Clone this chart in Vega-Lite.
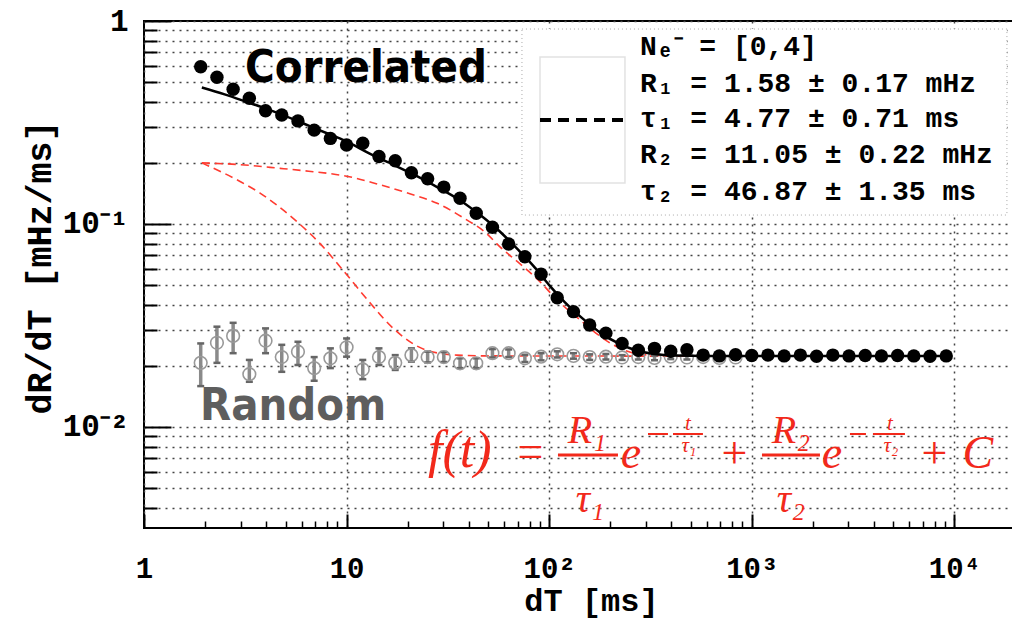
{
  "$schema": "https://vega.github.io/schema/vega-lite/v6.json",
  "width": 870,
  "height": 507,
  "autosize": "none",
  "padding": {"left": 144, "top": 21, "right": 0, "bottom": 92},
  "background": "white",
  "config": {"view": {"stroke": "black", "strokeWidth": 2}},
  "datasets": {
    "corr": [
      {"x": 1.905, "y": 0.595}, {"x": 2.291, "y": 0.528}, {"x": 2.754, "y": 0.461}, {"x": 3.311, "y": 0.416},
      {"x": 3.981, "y": 0.361}, {"x": 4.786, "y": 0.344}, {"x": 5.754, "y": 0.322}, {"x": 6.918, "y": 0.29},
      {"x": 8.318, "y": 0.264}, {"x": 10.0, "y": 0.245}, {"x": 12.02, "y": 0.25}, {"x": 14.45, "y": 0.215},
      {"x": 17.38, "y": 0.205}, {"x": 20.89, "y": 0.179}, {"x": 25.12, "y": 0.167}, {"x": 30.2, "y": 0.152},
      {"x": 36.31, "y": 0.134}, {"x": 43.65, "y": 0.113}, {"x": 52.48, "y": 0.0964}, {"x": 63.1, "y": 0.0797},
      {"x": 75.86, "y": 0.069}, {"x": 91.2, "y": 0.0565}, {"x": 109.6, "y": 0.0433}, {"x": 131.8, "y": 0.037},
      {"x": 158.5, "y": 0.0318}, {"x": 190.5, "y": 0.029}, {"x": 229.1, "y": 0.0258}, {"x": 275.4, "y": 0.0239},
      {"x": 331.1, "y": 0.0244}, {"x": 398.1, "y": 0.0236}, {"x": 478.6, "y": 0.024}, {"x": 575.4, "y": 0.0226},
      {"x": 691.8, "y": 0.0224}, {"x": 831.8, "y": 0.0227}, {"x": 1000, "y": 0.0225}, {"x": 1202, "y": 0.0226},
      {"x": 1445, "y": 0.0224}, {"x": 1738, "y": 0.0226}, {"x": 2089, "y": 0.0223}, {"x": 2512, "y": 0.0226},
      {"x": 3020, "y": 0.0224}, {"x": 3631, "y": 0.0225}, {"x": 4365, "y": 0.0224}, {"x": 5248, "y": 0.0225},
      {"x": 6310, "y": 0.0224}, {"x": 7586, "y": 0.0223}, {"x": 9120, "y": 0.0224}
    ],
    "rand": [
      {"x": 1.905, "y": 0.0207, "lo": 0.0159, "hi": 0.0258}, {"x": 2.291, "y": 0.026, "lo": 0.0207, "hi": 0.0312},
      {"x": 2.754, "y": 0.0281, "lo": 0.0231, "hi": 0.0326}, {"x": 3.311, "y": 0.0182, "lo": 0.0167, "hi": 0.0214},
      {"x": 3.981, "y": 0.0266, "lo": 0.0231, "hi": 0.0306}, {"x": 4.786, "y": 0.0221, "lo": 0.0187, "hi": 0.0254},
      {"x": 5.754, "y": 0.0235, "lo": 0.0202, "hi": 0.0263}, {"x": 6.918, "y": 0.0195, "lo": 0.0169, "hi": 0.0221},
      {"x": 8.318, "y": 0.0218, "lo": 0.0195, "hi": 0.0244}, {"x": 10.0, "y": 0.0247, "lo": 0.0222, "hi": 0.0273},
      {"x": 12.02, "y": 0.0192, "lo": 0.0172, "hi": 0.0214}, {"x": 14.45, "y": 0.0221, "lo": 0.0202, "hi": 0.0244},
      {"x": 17.38, "y": 0.0207, "lo": 0.0191, "hi": 0.0226}, {"x": 20.89, "y": 0.0226, "lo": 0.021, "hi": 0.0244},
      {"x": 25.12, "y": 0.0221, "lo": 0.0208, "hi": 0.0235}, {"x": 30.2, "y": 0.0221, "lo": 0.0209, "hi": 0.0234},
      {"x": 36.31, "y": 0.0206, "lo": 0.0195, "hi": 0.0218}, {"x": 43.65, "y": 0.0206, "lo": 0.0195, "hi": 0.0218},
      {"x": 52.48, "y": 0.0231, "lo": 0.022, "hi": 0.0242}, {"x": 63.1, "y": 0.0231, "lo": 0.0221, "hi": 0.0241},
      {"x": 75.86, "y": 0.0218, "lo": 0.0209, "hi": 0.0227}, {"x": 91.2, "y": 0.0222, "lo": 0.0213, "hi": 0.0231},
      {"x": 109.6, "y": 0.0228, "lo": 0.022, "hi": 0.0236}, {"x": 131.8, "y": 0.0224, "lo": 0.0217, "hi": 0.0231},
      {"x": 158.5, "y": 0.0221, "lo": 0.0214, "hi": 0.0228}, {"x": 190.5, "y": 0.0222, "lo": 0.0215, "hi": 0.0229},
      {"x": 229.1, "y": 0.022, "lo": 0.0214, "hi": 0.0226}, {"x": 275.4, "y": 0.0221, "lo": 0.0215, "hi": 0.0227},
      {"x": 331.1, "y": 0.0219, "lo": 0.0213, "hi": 0.0225}, {"x": 398.1, "y": 0.0222, "lo": 0.0216, "hi": 0.0228},
      {"x": 478.6, "y": 0.022, "lo": 0.0215, "hi": 0.0225}, {"x": 575.4, "y": 0.0221, "lo": 0.0216, "hi": 0.0226},
      {"x": 691.8, "y": 0.0219, "lo": 0.0214, "hi": 0.0224}, {"x": 831.8, "y": 0.022, "lo": 0.0215, "hi": 0.0225}
    ],
    "fit": [
      {"x": 1.93, "y": 0.47}, {"x": 2.5, "y": 0.435}, {"x": 3.2, "y": 0.4}, {"x": 4, "y": 0.37}, {"x": 5, "y": 0.34},
      {"x": 6.5, "y": 0.305}, {"x": 8, "y": 0.28}, {"x": 10, "y": 0.255}, {"x": 13, "y": 0.222}, {"x": 17, "y": 0.196},
      {"x": 22, "y": 0.173}, {"x": 28, "y": 0.152}, {"x": 35, "y": 0.134}, {"x": 45, "y": 0.112}, {"x": 55, "y": 0.095},
      {"x": 70, "y": 0.075}, {"x": 85, "y": 0.061}, {"x": 100, "y": 0.05}, {"x": 120, "y": 0.041}, {"x": 150, "y": 0.0335},
      {"x": 180, "y": 0.029}, {"x": 220, "y": 0.0258}, {"x": 270, "y": 0.0238}, {"x": 330, "y": 0.0229},
      {"x": 420, "y": 0.0225}, {"x": 600, "y": 0.0224}, {"x": 1000, "y": 0.0224}, {"x": 9120, "y": 0.0224}
    ],
    "slow": [
      {"x": 1.93, "y": 0.2}, {"x": 3, "y": 0.196}, {"x": 4.7, "y": 0.188}, {"x": 6.5, "y": 0.182}, {"x": 8.3, "y": 0.177},
      {"x": 10, "y": 0.172}, {"x": 14, "y": 0.158}, {"x": 20, "y": 0.142}, {"x": 28, "y": 0.1265}, {"x": 38, "y": 0.1067},
      {"x": 49, "y": 0.09}, {"x": 57, "y": 0.0773}, {"x": 70, "y": 0.065}, {"x": 90, "y": 0.052}, {"x": 110, "y": 0.042},
      {"x": 142, "y": 0.0337}, {"x": 170, "y": 0.029}, {"x": 207, "y": 0.0254}, {"x": 281, "y": 0.0228},
      {"x": 400, "y": 0.0224}, {"x": 1000, "y": 0.0223}, {"x": 9120, "y": 0.0223}
    ],
    "fast": [
      {"x": 1.93, "y": 0.2}, {"x": 2.98, "y": 0.162}, {"x": 3.74, "y": 0.142}, {"x": 4.52, "y": 0.124}, {"x": 5.67, "y": 0.103},
      {"x": 7.4, "y": 0.08}, {"x": 9.63, "y": 0.059}, {"x": 13.3, "y": 0.04}, {"x": 17, "y": 0.0306}, {"x": 24.8, "y": 0.0239},
      {"x": 35, "y": 0.0226}, {"x": 50, "y": 0.0224}, {"x": 9120, "y": 0.0223}
    ],
    "legendBox": [{"x": 73.4, "x2": 18180, "y": 0.913, "y2": 0.1107}],
    "legendSample": [{"x": 90.1, "x2": 236.7, "y": 0.665, "y2": 0.159}],
    "legendLine": [{"x": 90.1, "x2": 236.7, "y": 0.325}],
    "legendText": [
      {"x": 280.6, "y": 0.6801, "t": "Nₑ⁻ = [0,4]"},
      {"x": 280.6, "y": 0.4469, "t": "R₁ = 1.58 ± 0.17 mHz"},
      {"x": 280.6, "y": 0.3005, "t": "τ₁ = 4.77 ± 0.71 ms"},
      {"x": 280.6, "y": 0.1998, "t": "R₂ = 11.05 ± 0.22 mHz"},
      {"x": 280.6, "y": 0.1313, "t": "τ₂ = 46.87 ± 1.35 ms"}
    ],
    "corrLabel": [{"x": 3.152, "y": 0.5004, "t": "Correlated"}],
    "randLabel": [{"x": 1.889, "y": 0.01082, "t": "Random"}],
    "fLabel": [{"x": 25.22, "y": 0.006353, "t": "f(t)"}],
    "mainSym": [
      {"x": 80.4, "y": 0.006353, "t": "="},
      {"x": 253.4, "y": 0.006281, "t": "e"},
      {"x": 816.9, "y": 0.006281, "t": "+"},
      {"x": 2488, "y": 0.006281, "t": "e"},
      {"x": 7932, "y": 0.006281, "t": "+"},
      {"x": 13080, "y": 0.006281, "t": "C"}
    ],
    "fracText": [
      {"x": 153.7, "y": 0.00834, "t": "R₁"},
      {"x": 159.0, "y": 0.003814, "t": "τ₁"},
      {"x": 1561, "y": 0.00834, "t": "R₂"},
      {"x": 1561, "y": 0.003814, "t": "τ₂"}
    ],
    "expText": [
      {"x": 484.3, "y": 0.009665, "t": "t"},
      {"x": 489.8, "y": 0.00753, "t": "τ₁"},
      {"x": 4810, "y": 0.009665, "t": "t"},
      {"x": 4866, "y": 0.00753, "t": "τ₂"}
    ],
    "bigBars": [
      {"x": 110.5, "x2": 218.6, "y": 0.007279},
      {"x": 1123, "x2": 2171, "y": 0.007279}
    ],
    "smallBars": [
      {"x": 307.4, "x2": 385.8, "y": 0.009237},
      {"x": 408.5, "x2": 574.2, "y": 0.009237},
      {"x": 3053, "x2": 3662, "y": 0.009237},
      {"x": 3964, "x2": 5704, "y": 0.009237}
    ]
  },
  "resolve": {"axis": {"x": "independent", "y": "independent"}},
  "encoding": {
    "x": {"field": "x", "type": "quantitative", "scale": {"type": "log", "domain": [1, 19700], "nice": false}, "axis": null},
    "y": {"field": "y", "type": "quantitative", "scale": {"type": "log", "domain": [0.00318, 1], "nice": false}, "axis": null}
  },
  "layer": [
    {
      "data": {"name": "corr"},
      "mark": {"type": "point", "opacity": 0},
      "encoding": {
        "x": {"field": "x", "type": "quantitative", "scale": {"type": "log", "domain": [1, 19700], "nice": false},
          "axis": {"orient": "bottom", "values": [2,3,4,5,6,7,8,9,20,30,40,50,60,70,80,90,200,300,400,500,600,700,800,900,2000,3000,4000,5000,6000,7000,8000,9000],
            "tickSize": -7, "tickWidth": 1.5, "tickColor": "black", "labels": false, "grid": false, "domain": false, "title": null}},
        "y": {"field": "y", "type": "quantitative", "scale": {"type": "log", "domain": [0.00318, 1], "nice": false},
          "axis": {"orient": "left", "values": [0.004,0.005,0.006,0.007,0.008,0.009,0.02,0.03,0.04,0.05,0.06,0.07,0.08,0.09,0.2,0.3,0.4,0.5,0.6,0.7,0.8,0.9],
            "tickSize": -13, "tickWidth": 2, "tickColor": "black", "labels": false, "domain": false, "title": null,
            "grid": true, "gridColor": "#444", "gridDash": [2, 5], "gridWidth": 1.5}}
      }
    },
    {
      "data": {"name": "corr"},
      "mark": {"type": "point", "opacity": 0},
      "encoding": {
        "x": {"field": "x", "type": "quantitative", "scale": {"type": "log", "domain": [1, 19700], "nice": false},
          "axis": {"orient": "bottom", "values": [1, 10, 100, 1000, 10000],
            "labelExpr": "datum.value == 1 ? '1' : datum.value == 10 ? '10' : datum.value == 100 ? '10²' : datum.value == 1000 ? '10³' : '10⁴'",
            "tickSize": -14, "tickWidth": 2, "tickColor": "black", "domain": false,
            "labelFont": "Liberation Mono", "labelFontWeight": "bold", "labelFontSize": 29, "labelColor": "black", "labelPadding": 40,
            "labelFlush": false, "labelOverlap": false,
            "grid": true, "gridColor": "#444", "gridDash": [2, 5], "gridWidth": 1.5,
            "title": "dT [ms]", "titleFont": "Liberation Mono", "titleFontWeight": "bold", "titleFontSize": 32, "titleColor": "black",
            "titleX": 447, "titleY": 82, "titleAlign": "center", "titleBaseline": "alphabetic"}},
        "y": {"field": "y", "type": "quantitative", "scale": {"type": "log", "domain": [0.00318, 1], "nice": false},
          "axis": {"orient": "left", "values": [0.01, 0.1, 1],
            "labelExpr": "datum.value == 1 ? '1' : datum.value == 0.1 ? '10⁻¹' : '10⁻²'",
            "tickSize": -27, "tickWidth": 2, "tickColor": "black", "domain": false,
            "labelFont": "Liberation Mono", "labelFontWeight": "bold", "labelFontSize": 31, "labelColor": "black", "labelPadding": 43,
            "labelFlush": false, "labelOverlap": false,
            "grid": true, "gridColor": "#444", "gridDash": [2, 5], "gridWidth": 1.5,
            "title": "dR/dT  [mHz/ms]", "titleFont": "Liberation Mono", "titleFontWeight": "bold", "titleFontSize": 35, "titleColor": "black",
            "titleX": -94, "titleY": 246, "titleAngle": 270, "titleAlign": "center", "titleBaseline": "alphabetic"}}
      }
    },
    {
      "data": {"name": "legendBox"},
      "mark": {"type": "rect", "fill": "white", "stroke": "#aaaaaa", "strokeDash": [1, 3], "strokeWidth": 1},
      "encoding": {"x2": {"field": "x2"}, "y2": {"field": "y2"}}
    },
    {
      "data": {"name": "legendSample"},
      "mark": {"type": "rect", "fill": "white", "fillOpacity": 0, "stroke": "#e2e2e2", "strokeWidth": 1.5},
      "encoding": {"x2": {"field": "x2"}, "y2": {"field": "y2"}}
    },
    {
      "data": {"name": "legendLine"},
      "mark": {"type": "rule", "color": "black", "strokeWidth": 4, "strokeDash": [11, 7]},
      "encoding": {"x2": {"field": "x2"}}
    },
    {
      "data": {"name": "slow"},
      "mark": {"type": "line", "color": "#ff3b30", "strokeWidth": 1.6, "strokeDash": [8, 5], "interpolate": "monotone"},
      "encoding": {}
    },
    {
      "data": {"name": "fast"},
      "mark": {"type": "line", "color": "#ff3b30", "strokeWidth": 1.6, "strokeDash": [8, 5], "interpolate": "monotone"},
      "encoding": {}
    },
    {
      "data": {"name": "rand"},
      "mark": {"type": "rule", "color": "#8a8a8a", "strokeWidth": 3.5},
      "encoding": {
        "y": {"field": "lo", "type": "quantitative", "scale": {"type": "log", "domain": [0.00318, 1], "nice": false}, "axis": null},
        "y2": {"field": "hi"}
      }
    },
    {
      "data": {"name": "rand"},
      "mark": {"type": "tick", "orient": "horizontal", "color": "#666666", "size": 7, "thickness": 2.5, "opacity": 1},
      "encoding": {"y": {"field": "lo", "type": "quantitative", "scale": {"type": "log", "domain": [0.00318, 1], "nice": false}, "axis": null}}
    },
    {
      "data": {"name": "rand"},
      "mark": {"type": "tick", "orient": "horizontal", "color": "#666666", "size": 7, "thickness": 2.5, "opacity": 1},
      "encoding": {"y": {"field": "hi", "type": "quantitative", "scale": {"type": "log", "domain": [0.00318, 1], "nice": false}, "axis": null}}
    },
    {
      "data": {"name": "rand"},
      "mark": {"type": "point", "filled": false, "color": "#999999", "strokeWidth": 1.6, "size": 160, "opacity": 1}
    },
    {
      "data": {"name": "fit"},
      "mark": {"type": "line", "color": "black", "strokeWidth": 2.5, "interpolate": "monotone"},
      "encoding": {}
    },
    {
      "data": {"name": "corr"},
      "mark": {"type": "circle", "color": "black", "size": 180, "opacity": 1}
    },
    {
      "data": {"name": "legendText"},
      "mark": {"type": "text", "font": "Liberation Mono", "fontWeight": "bold", "fontSize": 28, "align": "left", "baseline": "alphabetic", "color": "black"},
      "encoding": {"text": {"field": "t"}}
    },
    {
      "data": {"name": "corrLabel"},
      "mark": {"type": "text", "font": "Liberation Sans Narrow, DejaVu Sans Condensed, sans-serif", "fontWeight": "bold", "fontSize": 45, "align": "left", "baseline": "alphabetic", "color": "black"},
      "encoding": {"text": {"field": "t"}}
    },
    {
      "data": {"name": "randLabel"},
      "mark": {"type": "text", "font": "Liberation Sans Narrow, DejaVu Sans Condensed, sans-serif", "fontWeight": "bold", "fontSize": 45, "align": "left", "baseline": "alphabetic", "color": "#5e5e5e"},
      "encoding": {"text": {"field": "t"}}
    },
    {
      "data": {"name": "fLabel"},
      "mark": {"type": "text", "font": "Liberation Serif", "fontStyle": "italic", "fontSize": 52, "align": "left", "baseline": "alphabetic", "color": "#f2291b"},
      "encoding": {"text": {"field": "t"}}
    },
    {
      "data": {"name": "mainSym"},
      "mark": {"type": "text", "font": "Liberation Serif", "fontStyle": "italic", "fontSize": 46, "align": "center", "baseline": "alphabetic", "color": "#f2291b"},
      "encoding": {"text": {"field": "t"}}
    },
    {
      "data": {"name": "fracText"},
      "mark": {"type": "text", "font": "Liberation Serif", "fontStyle": "italic", "fontSize": 40, "align": "center", "baseline": "alphabetic", "color": "#f2291b"},
      "encoding": {"text": {"field": "t"}}
    },
    {
      "data": {"name": "expText"},
      "mark": {"type": "text", "font": "Liberation Serif", "fontStyle": "italic", "fontSize": 21, "align": "center", "baseline": "alphabetic", "color": "#f2291b"},
      "encoding": {"text": {"field": "t"}}
    },
    {
      "data": {"name": "bigBars"},
      "mark": {"type": "rule", "color": "#f2291b", "strokeWidth": 3},
      "encoding": {"x2": {"field": "x2"}}
    },
    {
      "data": {"name": "smallBars"},
      "mark": {"type": "rule", "color": "#f2291b", "strokeWidth": 2},
      "encoding": {"x2": {"field": "x2"}}
    }
  ]
}
